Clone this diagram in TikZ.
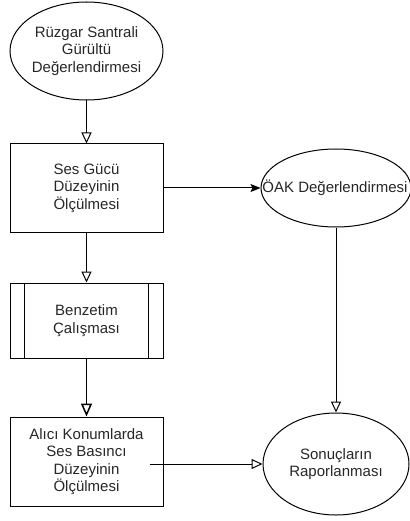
\documentclass[tikz,border=0pt]{standalone}
\usepackage{fontspec}
\setmainfont{Liberation Sans}
\usetikzlibrary{shapes.geometric,arrows.meta}
\begin{document}
\begin{tikzpicture}[x=1pt,y=-1pt,
  txt/.style={font=\fontsize{15}{17.5}\selectfont, align=center, text=black!85, inner sep=0pt},
  ell/.style={draw, ellipse, inner sep=0pt, line width=1pt},
  box/.style={draw, rectangle, line width=1pt, inner sep=0pt, minimum width=153pt, font=\fontsize{15}{17.5}\selectfont, align=center, text=black!85},
  oarrow/.style={-{Triangle[open,length=11pt,width=10pt]}, line width=1pt},
  farrow/.style={-{Stealth[length=10pt,width=8pt,inset=2pt]}, line width=1pt},
  ]
\useasboundingbox (0,0) rectangle (409,521);
% top ellipse
\node[ell, minimum width=153pt, minimum height=98pt] (top) at (86.5,51) {};
\node[txt] (toptxt) at (top) {Rüzgar Santrali\\Gürültü\\Değerlendirmesi};
% box 1
\node[box, minimum height=88pt] (b1) at (86.5,188) {Ses Gücü\\Düzeyinin\\Ölçülmesi};
% box 2 (process)
\node[box, minimum height=75pt] (b2) at (86.5,320.5) {Benzetim\\Çalışması};
\draw[line width=1pt] ([xshift=15pt]b2.north west) -- ([xshift=15pt]b2.south west);
\draw[line width=1pt] ([xshift=-15pt]b2.north east) -- ([xshift=-15pt]b2.south east);
% box 3
\node[box, minimum height=89pt] (b3) at (86.5,461.5) {Alıcı Konumlarda\\Ses Basıncı\\Düzeyinin\\Ölçülmesi};
% OAK ellipse
\node[ell, minimum width=150pt, minimum height=78pt] (oak) at (336,188) {};
\node[txt] (oaktxt) at (335,188) {ÖAK Değerlendirmesi};
% Sonuclarin ellipse
\node[ell, minimum width=146pt, minimum height=102pt] (son) at (336,464) {};
\node[txt] (sontxt) at (son) {Sonuçların\\Raporlanması};
% connectors
\draw[oarrow] (top) -- (b1);
\draw[oarrow] (b1) -- (b2);
\draw[-{Triangle[open,length=13pt,width=11pt]}, line width=1.5pt] (b2) -- (b3);
\draw[farrow] (b1.east) -- (oak.west);
\draw[oarrow] (oak.south) -- (son.north);
\coordinate (c3) at (150,464);
\draw[oarrow] (c3) -- (son.west);
\end{tikzpicture}
\end{document}
